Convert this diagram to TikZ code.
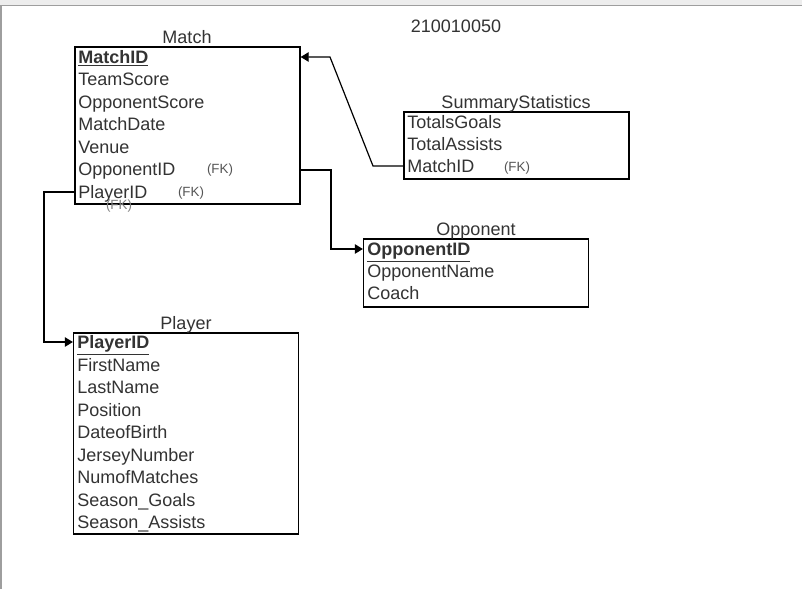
\documentclass[tikz,border=0pt]{standalone}
\usepackage{fontspec}
\setmainfont{Liberation Sans}
\usetikzlibrary{arrows.meta}
\definecolor{txt}{HTML}{333333}
\definecolor{fkc}{HTML}{555555}
\begin{document}
\begin{tikzpicture}[x=0.75pt,y=-0.75pt,
  tbl/.style={draw=black,line width=0.9pt,minimum width=168.75pt,inner sep=0pt},
  ttl/.style={font=\fontsize{13.5}{15}\selectfont,text=txt,inner sep=0pt,anchor=base},
  row/.style={font=\fontsize{13.5}{15}\selectfont,text=txt,inner sep=0pt,anchor=base west},
  fk/.style={font=\fontsize{10}{12}\selectfont,text=fkc,inner sep=0pt,anchor=base},
  conn/.style={line width=0.9pt,black},
  tip/.style={-{Triangle[length=6pt,width=7pt]}}]
\useasboundingbox (0,0) rectangle (802,589);
\fill[white] (0,0) rectangle (802,589);
\fill[black!7] (0,0) rectangle (802,5);
\draw[black!38,line width=1.2pt] (0,5.5) -- (802,5.5);
\draw[black!38,line width=1.5pt] (1,5) -- (1,589);

\node[font=\fontsize{13.5}{15}\selectfont,text=txt] (id) at (456,26) {210010050};

% Match
\node[tbl,minimum height=117.75pt] (match) at (187.5,125.5) {};
\node[ttl] (matcht) at (187,43) {Match};
\node[row] (m1) at (78,63.5) {\textbf{\underline{MatchID}}};
\node[row] (m2) at (78,85.5) {TeamScore};
\node[row] (m3) at (78,108) {OpponentScore};
\node[row] (m4) at (78,130.5) {MatchDate};
\node[row] (m5) at (78,153) {Venue};
\node[row] (m6) at (78,175.5) {OpponentID};
\node[row] (m7) at (78,198) {PlayerID};
\node[fk] (fk1) at (220,173.5) {(FK)};
\node[fk] (fk2) at (191,196.5) {(FK)};
\node[fk,text=black!50] (fk3) at (119,209) {(FK)};

% SummaryStatistics
\node[tbl,minimum height=50.25pt] (sum) at (516.5,145.5) {};
\node[ttl] (sumt) at (516,108) {SummaryStatistics};
\node[row] (s1) at (407,128.5) {TotalsGoals};
\node[row] (s2) at (407,150) {TotalAssists};
\node[row] (s3) at (407,172.5) {MatchID};
\node[fk] (fk4) at (517,171.5) {(FK)};

% Opponent
\node[tbl,minimum height=51pt] (opp) at (476,273) {};
\node[ttl] (oppt) at (476,235) {Opponent};
\node[row] (o1) at (367,255.5) {\textbf{\underline{OpponentID}}};
\node[row] (o2) at (367,277.5) {OpponentName};
\node[row] (o3) at (367,299.5) {Coach};

% Player
\node[tbl,minimum height=150.75pt] (player) at (186,433.5) {};
\node[ttl] (playert) at (186,329) {Player};
\node[row] (p1) at (77,348.5) {\textbf{\underline{PlayerID}}};
\node[row] (p2) at (77,371) {FirstName};
\node[row] (p3) at (77,393.5) {LastName};
\node[row] (p4) at (77,416) {Position};
\node[row] (p5) at (77,438.5) {DateofBirth};
\node[row] (p6) at (77,461) {JerseyNumber};
\node[row] (p7) at (77,483.5) {NumofMatches};
\node[row] (p8) at (77,506) {Season\_Goals};
\node[row] (p9) at (77,528.5) {Season\_Assists};

% connectors
\coordinate (b1) at (373,166);
\coordinate (b2) at (330,57);
\coordinate (c2) at (331,210);
\coordinate (c3) at (44,260);
\draw[conn,tip] (sum.west |- 0,166) -- (b1) -- (b2) -- (match.east |- b2);
\draw[conn,tip] (match.east |- 0,170) -| (c2) |- (opp.west |- 0,249);
\draw[conn,tip] (match.west |- 0,192) -| (c3) |- (player.west |- 0,342);
\end{tikzpicture}
\end{document}
